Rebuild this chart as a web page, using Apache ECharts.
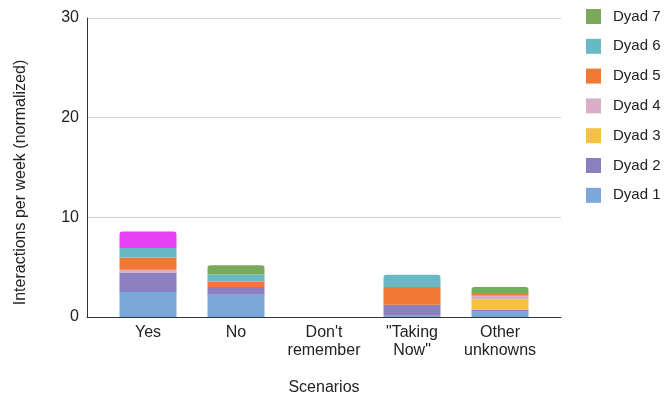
<!DOCTYPE html>
<html><head><meta charset="utf-8">
<script src="https://cdn.jsdelivr.net/npm/echarts@6/dist/echarts.min.js"></script>
<style>html,body{margin:0;padding:0;background:#fff}#c{width:665px;height:402px}</style>
</head><body><div id="c"></div>
<script>
var categories = ['Yes', 'No', "Don't\nremember", '"Taking\nNow"', 'Other\nunknowns'];
var dyad1 = [2.5, 2.24, 0, 0.13, 0.53];
var dyad2 = [1.97, 0.77, 0, 1.1, 0.2];
var dyad3 = [0, 0, 0, 0, 1.0];
var dyad4 = [0.27, 0, 0, 0, 0.4];
var dyad5 = [1.24, 0.56, 0, 1.78, 0.27];
var dyad6 = [0.94, 0.7, 0, 1.23, 0];
var dyad7 = [0, 0.91, 0, 0, 0.6];
var dyad8 = [1.67, 0, 0, 0, 0];
var yTicks = [0, 10, 20, 30];

var seriesDefs = [
  {name: 'Dyad 1', data: dyad1, color: '#7ba7d9'},
  {name: 'Dyad 2', data: dyad2, color: '#8c7fc0'},
  {name: 'Dyad 3', data: dyad3, color: '#f5c145'},
  {name: 'Dyad 4', data: dyad4, color: '#d8aec8'},
  {name: 'Dyad 5', data: dyad5, color: '#ef7935'},
  {name: 'Dyad 6', data: dyad6, color: '#67b9c4'},
  {name: 'Dyad 7', data: dyad7, color: '#7aa95c'},
  {name: 'Dyad 8', data: dyad8, color: '#e840f5'}
];
var topIdx = categories.map(function (c, i) {
  var t = -1;
  seriesDefs.forEach(function (s, k) { if (s.data[i] > 0) t = k; });
  return t;
});
var series = seriesDefs.map(function (s, k) {
  return {
    name: s.name, type: 'bar', stack: 'total', xAxisIndex: 0, yAxisIndex: 0,
    barWidth: 57,
    itemStyle: {color: s.color},
    data: s.data.map(function (v, i) {
      return topIdx[i] === k ? {value: v, itemStyle: {borderRadius: [3, 3, 0, 0]}} : v;
    })
  };
});

var chart = echarts.init(document.getElementById('c'), null, {renderer: 'canvas'});
chart.setOption({
  animation: false,
  textStyle: {fontFamily: 'Liberation Sans, Arial, sans-serif'},
  grid: [
    {left: 104, right: 121, top: 18, bottom: 85},
    {left: 87, right: 104, top: 18, bottom: 85}
  ],
  legend: {
    orient: 'vertical', left: 586, top: 9, padding: 0,
    itemWidth: 15, itemHeight: 15, itemGap: 14.8, icon: 'rect',
    data: ['Dyad 7', 'Dyad 6', 'Dyad 5', 'Dyad 4', 'Dyad 3', 'Dyad 2', 'Dyad 1'],
    textStyle: {fontSize: 15, lineHeight: 15, color: '#222', padding: [0, 0, 0, 7]}
  },
  xAxis: [
    {
      type: 'category', gridIndex: 0, data: categories,
      axisLine: {show: false}, axisTick: {show: false},
      axisLabel: {interval: 0, fontSize: 16, color: '#222', lineHeight: 18, margin: 7},
      name: 'Scenarios', nameLocation: 'middle', nameGap: 63,
      nameTextStyle: {fontSize: 16, color: '#222'}
    },
    {
      type: 'value', gridIndex: 1, min: 0, max: 1,
      axisLine: {show: true, lineStyle: {color: '#333', width: 1}},
      axisTick: {show: false}, axisLabel: {show: false}, splitLine: {show: false}
    }
  ],
  yAxis: [
    {type: 'value', gridIndex: 0, min: 0, max: 30, show: false},
    {
      type: 'value', gridIndex: 1, min: yTicks[0], max: yTicks[yTicks.length - 1], interval: 10,
      axisLine: {show: true, lineStyle: {color: '#333', width: 1}},
      axisTick: {show: false},
      axisLabel: {fontSize: 16, color: '#222', margin: 8},
      splitLine: {show: true, lineStyle: {color: '#d0d0d0'}},
      name: 'Interactions per week (normalized)', nameLocation: 'middle', nameGap: 58,
      nameTextStyle: {fontSize: 16, color: '#222', padding: [0, 30, 0, 0]}
    }
  ],
  series: series
});
</script></body></html>
